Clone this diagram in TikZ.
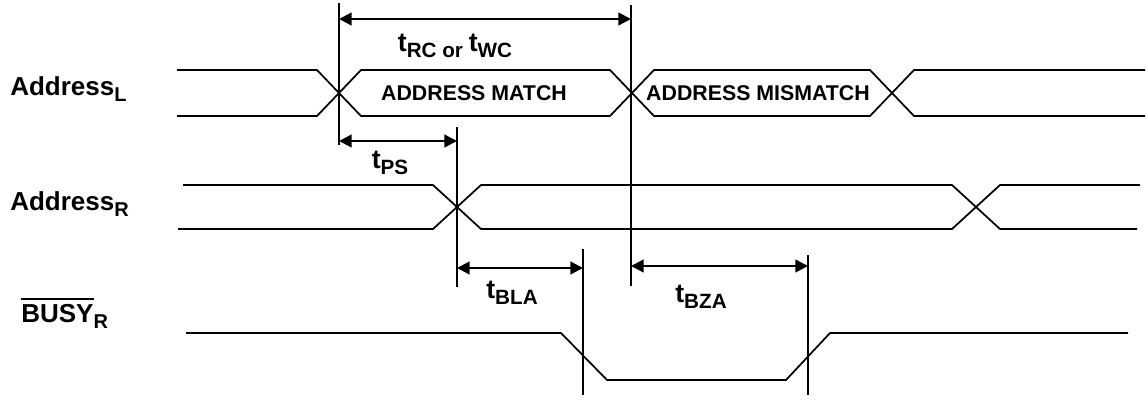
\documentclass[tikz,border=0pt]{standalone}
\usepackage{fontspec}
\setmainfont{Liberation Sans}
\usetikzlibrary{arrows.meta}
\newcommand{\lowsub}[2][15pt]{\raisebox{-0.45ex}{\fontsize{#1}{#1}\selectfont #2}}
\newcommand{\barred}[1]{\leavevmode\vbox{\hrule height 1.6pt\kern 2.6pt\hbox{#1}}}

\begin{document}
\begin{tikzpicture}[x=0.75pt,y=-0.75pt,
  sig/.style={line width=1.3pt},
  marker/.style={line width=1.7pt},
  timearrow/.style={{Triangle[length=9.5pt,width=9.5pt]}-{Triangle[length=9.5pt,width=9.5pt]},line width=1.7pt},
  siglabel/.style={font=\fontsize{19.5pt}{22pt}\selectfont\bfseries,inner sep=0pt,anchor=base west},
  buslabel/.style={font=\fontsize{16pt}{18pt}\selectfont\bfseries,inner sep=0pt},
  timelabel/.style={font=\fontsize{20pt}{22pt}\selectfont\bfseries,inner sep=0pt,anchor=base}]
\useasboundingbox (0,0) rectangle (1147,405);

% signal names
\node[siglabel] (addrL) at (10,95) {Address\lowsub{L}};
\node[siglabel] (addrR) at (10,210) {Address\lowsub{R}};
\node[siglabel] (busyR) at (21,322) {\barred{BUSY}\lowsub{R}};

% Address_L
\draw[sig] (177,70) -- (317,70) -- (361,116) -- (610,116) -- (654,70) -- (870,70) -- (914,116) -- (1145,116);
\draw[sig] (177,116) -- (317,116) -- (361,70) -- (610,70) -- (654,116) -- (870,116) -- (914,70) -- (1145,70);
\node[buslabel] (match) at (474,93) {ADDRESS MATCH};
\node[buslabel] (mismatch) at (758,93) {ADDRESS MISMATCH};

% Address_R
\draw[sig] (183,185) -- (433,185) -- (481,229) -- (952,229) -- (1000,185) -- (1140,185);
\draw[sig] (178,229) -- (433,229) -- (481,185) -- (952,185) -- (1000,229) -- (1137,229);

% BUSY_R
\draw[sig] (186,333) -- (561,333) -- (607,380) -- (786,380) -- (830,333) -- (1128,333);

% markers
\coordinate (mA1) at (339,3);   \coordinate (mA2) at (339,145);
\coordinate (mB1) at (631,5);   \coordinate (mB2) at (631,286);
\coordinate (mC1) at (457,127); \coordinate (mC2) at (457,287);
\coordinate (mD1) at (583,249); \coordinate (mD2) at (583,395);
\coordinate (mE1) at (808,255); \coordinate (mE2) at (808,395);
\draw[marker] (mA1) -- (mA2);
\draw[marker] (mB1) -- (mB2);
\draw[marker] (mC1) -- (mC2);
\draw[marker] (mD1) -- (mD2);
\draw[marker] (mE1) -- (mE2);

% timings
\coordinate (trcL) at (339,19);   \coordinate (trcR) at (631,19);
\coordinate (tpsL) at (339,141);  \coordinate (tpsR) at (457,141);
\coordinate (tblaL) at (457,268); \coordinate (tblaR) at (583,268);
\coordinate (tbzaL) at (631,266); \coordinate (tbzaR) at (808,266);
\draw[timearrow] (trcL) -- (trcR);
\draw[timearrow] (tpsL) -- (tpsR);
\draw[timearrow] (tblaL) -- (tblaR);
\draw[timearrow] (tbzaL) -- (tbzaR);
\node[timelabel] (trc) at (455,51) {t\lowsub[15.5pt]{RC or }t\lowsub[15.5pt]{WC}};
\node[timelabel] (tps) at (390,168) {t\lowsub[15.5pt]{PS}};
\node[timelabel] (tbla) at (512,298) {t\lowsub[15.5pt]{BLA}};
\node[timelabel] (tbza) at (701,302) {t\lowsub[15.5pt]{BZA}};

\end{tikzpicture}
\end{document}
